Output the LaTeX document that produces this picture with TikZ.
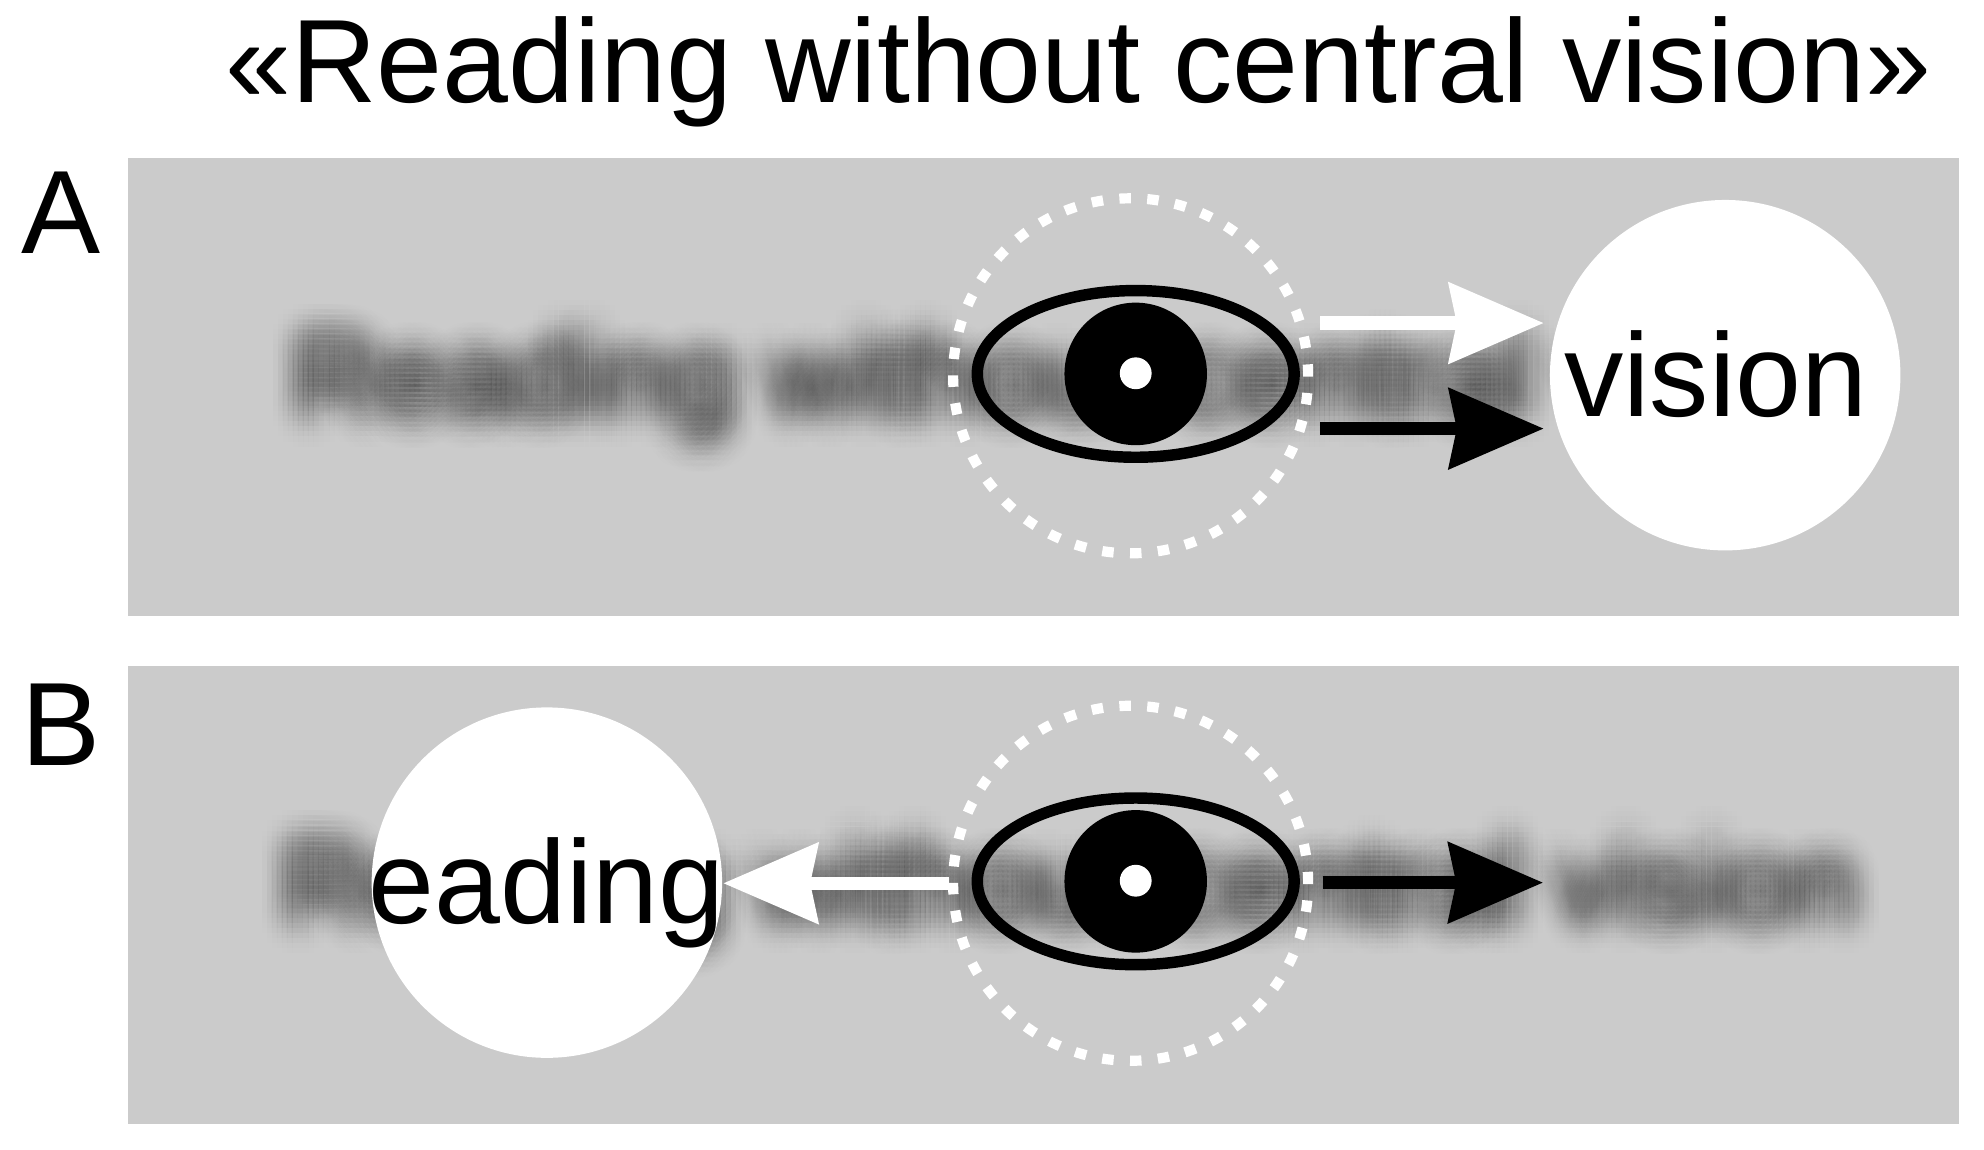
\documentclass[tikz,border=0pt]{standalone}
\usepackage{fontspec}
\setmainfont{Liberation Sans}
\usetikzlibrary{shapes.geometric,arrows.meta}
\definecolor{bggray}{HTML}{CBCBCB}
\newcommand\blurline[4]{%
  \foreach \dx in {-28,-24,...,28}{%
    \foreach \dy in {-28,-24,...,28}{%
      \pgfmathtruncatemacro\insd{((\dx)*(\dx)+(\dy)*(\dy))<=900 ? 1 : 0}%
      \ifnum\insd=1
        \pgfmathsetmacro\wop{0.02*exp(-((\dx)*(\dx)+(\dy)*(\dy))/288)}%
        \node[blurtxt, opacity=\wop] (#1x\dx y\dy) at (#2+\dx,#3+\dy) {#4};
      \fi
    }%
  }%
}
\begin{document}
\begin{tikzpicture}[x=0.01cm,y=-0.01cm,
  txt/.style={inner sep=0pt, outer sep=0pt, anchor=base west, font=\fontsize{26.5pt}{30pt}\selectfont},
  blurtxt/.style={txt, text=black},
  panel/.style={fill=bggray, inner sep=0pt, minimum width=14.39cm, minimum height=3.60cm},
  window/.style={circle, fill=white, inner sep=0pt, minimum size=2.754cm},
  fovea/.style={circle, draw=white, line width=0.08cm, dash pattern=on 0.09cm off 0.129cm, inner sep=0pt, minimum size=2.79cm},
  eyelid/.style={ellipse, draw=black, line width=0.09cm, inner sep=0pt, minimum width=2.49cm, minimum height=1.31cm},
  iris/.style={circle, fill=black, inner sep=0pt, minimum size=1.12cm},
  pupil/.style={circle, fill=white, inner sep=0pt, minimum size=0.25cm},
  arr/.style={line width=0.105cm, -{Stealth[length=0.75cm, width=0.65cm, inset=0.07cm, line width=0pt]}},
]
\useasboundingbox (0,0) rectangle (1560,904.2);
\fill[white] (0,0) rectangle (1560,904.2);

% title and labels
\node[txt] (title) at (177,80.8) {«Reading without central vision»};
\node[txt] (labA) at (17,199) {A};
\node[txt] (labB) at (16.8,602) {B};

% panels
\node[panel] (panA) at (820.5,304.5) {};
\node[panel] (panB) at (820.5,704) {};

% blurred text lines
\blurline{bA}{231}{327.6}{Reading without central vision}
\blurline{bB}{222.5}{726}{Reading without central vision}

% clear windows
\node[window] (winA) at (1356.5,295) {};
\node[txt] (wordA) at (1230,327.6) {vision};
\node[window] (winB) at (430,694) {};
\node[txt] (wordB) at (289.7,726) {eading};

% panel A eye
\node[fovea] (fovA) at (889,295.5) {};
\node[eyelid] (lidA) at (893,294) {};
\node[iris] (irisA) at (893,294) {};
\node[pupil] (pupA) at (893,293.5) {};

% panel B eye
\node[fovea] (fovB) at (889,694.5) {};
\node[eyelid] (lidB) at (893,693) {};
\node[iris] (irisB) at (893,693) {};
\node[pupil] (pupB) at (893,692.5) {};

% arrows
\coordinate (aw0) at (1038,254);
\coordinate (aw1) at (1213.5,254);
\coordinate (ab0) at (1038,337);
\coordinate (ab1) at (1213.5,337);
\coordinate (bw0) at (746,694.5);
\coordinate (bw1) at (569,694.5);
\coordinate (bb0) at (1040,694);
\coordinate (bb1) at (1213,694);
\draw[arr, white] (aw0) -- (aw1);
\draw[arr, black] (ab0) -- (ab1);
\draw[arr, white] (bw0) -- (bw1);
\draw[arr, black] (bb0) -- (bb1);
\end{tikzpicture}
\end{document}
